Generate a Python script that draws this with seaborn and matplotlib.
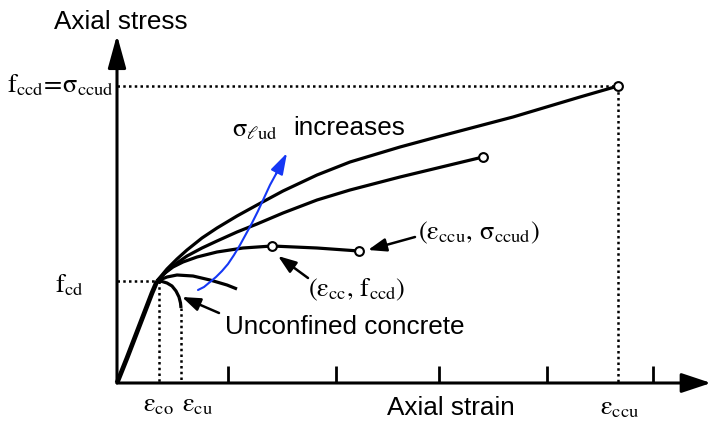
import numpy as np
import pandas as pd
import matplotlib
matplotlib.use("Agg")
import matplotlib.pyplot as plt
import seaborn as sns

sns.set_theme(style="white")
plt.rcParams["font.family"] = ["Liberation Sans", "DejaVu Sans"]
plt.rcParams["mathtext.fontset"] = "stix"
plt.rcParams["text.color"] = "black"

# ---- data (schematic units: strain on x, stress on y) ----
rise_x = [0, 10, 20, 30, 35, 38, 40]
rise_y = [0, 25, 51, 77, 90, 97, 102]

unconf_x = [40, 45, 50, 55, 59, 62, 63.5, 64]
unconf_y = [102, 101.5, 100, 97, 92, 86, 80, 75]

c4_x = [40, 50, 60, 76, 93, 110, 120]
c4_y = [102, 106, 108, 107, 103, 98, 94]

c3_x = [40, 48, 56, 66, 80, 100, 126, 155, 200, 242]
c3_y = [102, 110, 116, 121, 126, 131, 135, 137, 135, 132]

c2_x = [40, 50, 60, 70, 85, 100, 120, 140, 166, 200, 233, 283, 366]
c2_y = [102, 112, 120, 127, 135, 142, 151, 159, 170, 183, 193, 206, 226]

c1_x = [40, 50, 60, 70, 85, 100, 120, 140, 166, 200, 233, 283, 320, 396, 463, 501]
c1_y = [102, 114, 124, 133, 145, 155, 167, 178, 192, 208, 221, 236, 246, 266, 286, 297]

blue_x = [81, 87, 93, 99, 105, 111, 117, 123, 129, 135, 141, 147, 153, 159, 164, 170]
blue_y = [93, 96, 101, 106, 112, 119, 128, 138, 149, 160, 172, 185, 198, 209, 219, 230]

circle_x = [155, 242, 366, 501]
circle_y = [137, 132, 226, 297]

tick_x = [111, 219, 322, 430, 536]

fcd, fccd = 102, 297
eps_co, eps_cu, eps_ccu = 42, 64, 501
eps_cu_top = 75

# ---- figure ----
fig = plt.figure(figsize=(7.12, 4.23), dpi=100)
ax = fig.add_axes([0, 0, 1, 1])
ax.set_xlim(-117, 595)
ax.set_ylim(-40, 383)
ax.axis("off")

# axes with arrows
ax.annotate("", xy=(594, 0), xytext=(0, 0),
            arrowprops=dict(arrowstyle="-|>,head_length=18,head_width=6",
                            mutation_scale=1, lw=2.2, color="black",
                            shrinkA=0, shrinkB=0))
ax.annotate("", xy=(0, 348), xytext=(0, 0),
            arrowprops=dict(arrowstyle="-|>,head_length=20,head_width=5.5",
                            mutation_scale=1, lw=2.2, color="black",
                            shrinkA=0, shrinkB=0))
ax.vlines(tick_x, 0, 17, colors="black", lw=2)

# dotted guides
dot = dict(color="black", lw=1.8, linestyle=(0, (1, 1.3)))
ax.plot([0, eps_ccu], [fccd, fccd], **dot)
ax.plot([eps_ccu, eps_ccu], [fccd, 0], **dot)
ax.plot([0, 40], [fcd, fcd], **dot)
ax.plot([eps_co, eps_co], [fcd, 0], **dot)
ax.plot([eps_cu, eps_cu], [eps_cu_top, 0], **dot)

# curves
def curve(xs, ys, lw):
    sns.lineplot(x=xs, y=ys, sort=False, estimator=None, color="black",
                 lw=lw, ax=ax, solid_capstyle="butt", solid_joinstyle="round")

curve(rise_x, rise_y, 3.4)
for xs, ys in [(unconf_x, unconf_y), (c4_x, c4_y), (c3_x, c3_y),
               (c2_x, c2_y), (c1_x, c1_y)]:
    curve(xs, ys, 2.3)

sns.scatterplot(x=circle_x, y=circle_y, s=40, color="white",
                edgecolor="black", linewidth=1.5, zorder=5, ax=ax)

# blue arrow
blue = "#1537f5"
sns.lineplot(x=blue_x[:-1], y=blue_y[:-1], sort=False, estimator=None,
             color=blue, lw=1.5, ax=ax, solid_joinstyle="round")
ax.annotate("", xy=(blue_x[-1], blue_y[-1]), xytext=(blue_x[-3], blue_y[-3]),
            arrowprops=dict(arrowstyle="-|>,head_length=13,head_width=4",
                            mutation_scale=1, lw=1.5, color=blue,
                            shrinkA=0, shrinkB=0))

# pointer arrows
ptr = dict(arrowstyle="-|>,head_length=11,head_width=4", mutation_scale=1,
           lw=1.8, color="black", shrinkA=0, shrinkB=0)
ax.annotate("", xy=(251, 133), xytext=(298, 146), arrowprops=ptr)
ax.annotate("", xy=(161, 127), xytext=(191, 105), arrowprops=ptr)
ax.annotate("", xy=(65, 86), xytext=(102, 70), arrowprops=ptr)

# texts
sans = 18.8
ser = 19
ax.text(4, 361, "Axial stress", fontsize=sans, ha="center", va="center")
ax.text(334, -25, "Axial strain", fontsize=sans, ha="center", va="center")
ax.text(108, 56, "Unconfined concrete", fontsize=sans, ha="left", va="center")
ax.text(176, 255, "increases", fontsize=sans, ha="left", va="center")

ax.text(-3, 298, r"$\mathrm{f}_{\mathrm{ccd}}\!=\!\mathrm{σ}_{\mathrm{ccud}}$",
        fontsize=ser, ha="right", va="center")
ax.text(-62, 98, r"$\mathrm{f}_{\mathrm{cd}}$", fontsize=ser, ha="left", va="center")
ax.text(41, -22, r"$\mathrm{ε}_{\mathrm{co}}$", fontsize=ser, ha="center", va="center")
ax.text(81, -22, r"$\mathrm{ε}_{\mathrm{cu}}$", fontsize=ser, ha="center", va="center")
ax.text(503, -25, r"$\mathrm{ε}_{\mathrm{ccu}}$", fontsize=ser, ha="center", va="center")
ax.text(115, 253, r"$\mathrm{σ}_{ℓ\mathrm{ud}}$", fontsize=ser, ha="left", va="center")
ax.text(301, 150, r"$(\mathrm{ε}_{\mathrm{ccu}},\,\mathrm{σ}_{\mathrm{ccud}})$",
        fontsize=ser, ha="left", va="center")
ax.text(191, 93, r"$(\mathrm{ε}_{\mathrm{cc}},\,\mathrm{f}_{\mathrm{ccd}})$",
        fontsize=ser, ha="left", va="center")

fig.savefig("out.png", dpi=100)
